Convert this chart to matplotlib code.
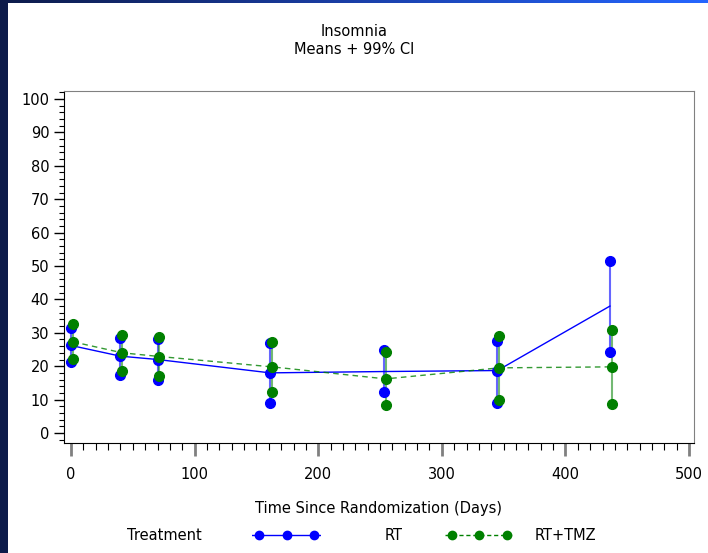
import matplotlib
matplotlib.use("Agg")
import matplotlib.pyplot as plt
import numpy as np
from matplotlib.ticker import MultipleLocator

# data
days = [0, 40, 70, 161, 253, 345, 436]

rt_mean = [26.2, 23.0, 22.0, 18.0, 18.4, 18.7, 38.0]
rt_upper = [31.3, 28.4, 28.1, 27.0, 24.9, 27.6, 51.5]
rt_lower = [21.2, 17.4, 15.9, 9.1, 12.3, 9.0, 24.3]
rt_mean_dot = [True, True, True, True, False, True, False]

tmz_days = [1.5, 41.5, 71.5, 162.5, 254.5, 346.5, 437.5]
tmz_mean = [27.3, 24.0, 22.9, 19.8, 16.2, 19.5, 19.8]
tmz_upper = [32.5, 29.4, 28.8, 27.2, 24.3, 29.1, 30.9]
tmz_lower = [22.2, 18.7, 17.0, 12.4, 8.4, 10.0, 8.7]

blue = '#0000ff'
green = '#008000'

fig = plt.figure(figsize=(7.08, 5.53), dpi=100)

# dark frame on left and gradient bar on top
edge = fig.add_axes([0, 0, 8 / 708, 1])
edge.axis('off')
edge.add_patch(plt.Rectangle((0, 0), 1, 1, color='#0d1b4a'))
edge.set_xlim(0, 1)
edge.set_ylim(0, 1)
topbar = fig.add_axes([0, 1 - 3 / 553, 1, 3 / 553])
topbar.axis('off')
grad = np.linspace(0, 1, 256).reshape(1, -1)
cmap = matplotlib.colors.LinearSegmentedColormap.from_list('bar', ['#0d1b4a', '#1a3fa8', '#2566ff'])
topbar.imshow(grad, aspect='auto', cmap=cmap)

ax = fig.add_axes([64 / 708, 1 - 443 / 553, 630 / 708, 352 / 553])

# confidence interval bars
ax.vlines(days, rt_lower, rt_upper, color=blue, lw=1.5, alpha=0.6)
ax.vlines(tmz_days, tmz_lower, tmz_upper, color=green, lw=1.5, alpha=0.55)

# mean lines
ax.plot(days, rt_mean, color=blue, lw=1)
ax.plot(tmz_days, tmz_mean, color=green, lw=1, ls=(0, (4, 3)), alpha=0.8)

# markers
ms = 7
ax.plot(days, rt_upper, 'o', color=blue, ms=ms)
ax.plot(days, rt_lower, 'o', color=blue, ms=ms)
ax.plot([d for d, k in zip(days, rt_mean_dot) if k],
        [m for m, k in zip(rt_mean, rt_mean_dot) if k], 'o', color=blue, ms=ms)
ax.plot(tmz_days, tmz_upper, 'o', color=green, ms=ms)
ax.plot(tmz_days, tmz_lower, 'o', color=green, ms=ms)
ax.plot(tmz_days, tmz_mean, 'o', color=green, ms=ms)

ax.set_xlim(-5.7, 504)
ax.set_ylim(-3, 102.4)
ax.xaxis.set_major_locator(MultipleLocator(100))
ax.xaxis.set_minor_locator(MultipleLocator(10))
ax.yaxis.set_major_locator(MultipleLocator(10))
ax.yaxis.set_minor_locator(MultipleLocator(2))
ax.tick_params(which='major', length=7, width=1, labelsize=10.5, direction='out')
ax.tick_params(which='minor', length=3.5, width=0.8, direction='out')
ax.tick_params(axis='x', which='major', color='#808080', width=2, length=9)
ax.tick_params(axis='x', which='minor', length=5)
ax.tick_params(axis='x', pad=8)
for s in ['top', 'right']:
    ax.spines[s].set_color('#808080')

ax.set_xlabel('Time Since Randomization (Days)', fontsize=10.5, labelpad=14)

fig.text(0.5, 1 - 32 / 553, 'Insomnia', ha='center', va='center', fontsize=10.5)
fig.text(0.5, 1 - 49 / 553, 'Means + 99% CI', ha='center', va='center', fontsize=10.5)

# legend at the bottom
leg_y = 1 - 535 / 553
fig.text(164 / 708, leg_y, 'Treatment', ha='center', va='center', fontsize=10.5)
legend_items = [(blue, '-', 252, 'RT', 394), (green, (0, (3, 2)), 445, 'RT+TMZ', 565)]
for col, style, x0, lab, lx in legend_items:
    lax = fig.add_axes([x0 / 708, leg_y - 0.02, 69 / 708, 0.04])
    lax.axis('off')
    lax.set_xlim(-0.25, 2.25)
    lax.set_ylim(-1, 1)
    lax.plot([-0.25, 2.25], [0, 0], color=col, lw=1, ls=style)
    lax.plot([0, 1, 2], [0, 0, 0], 'o', color=col, ms=6)
    fig.text(lx / 708, leg_y, lab, ha='center', va='center', fontsize=10.5)

fig.savefig('out.png', dpi=100)
